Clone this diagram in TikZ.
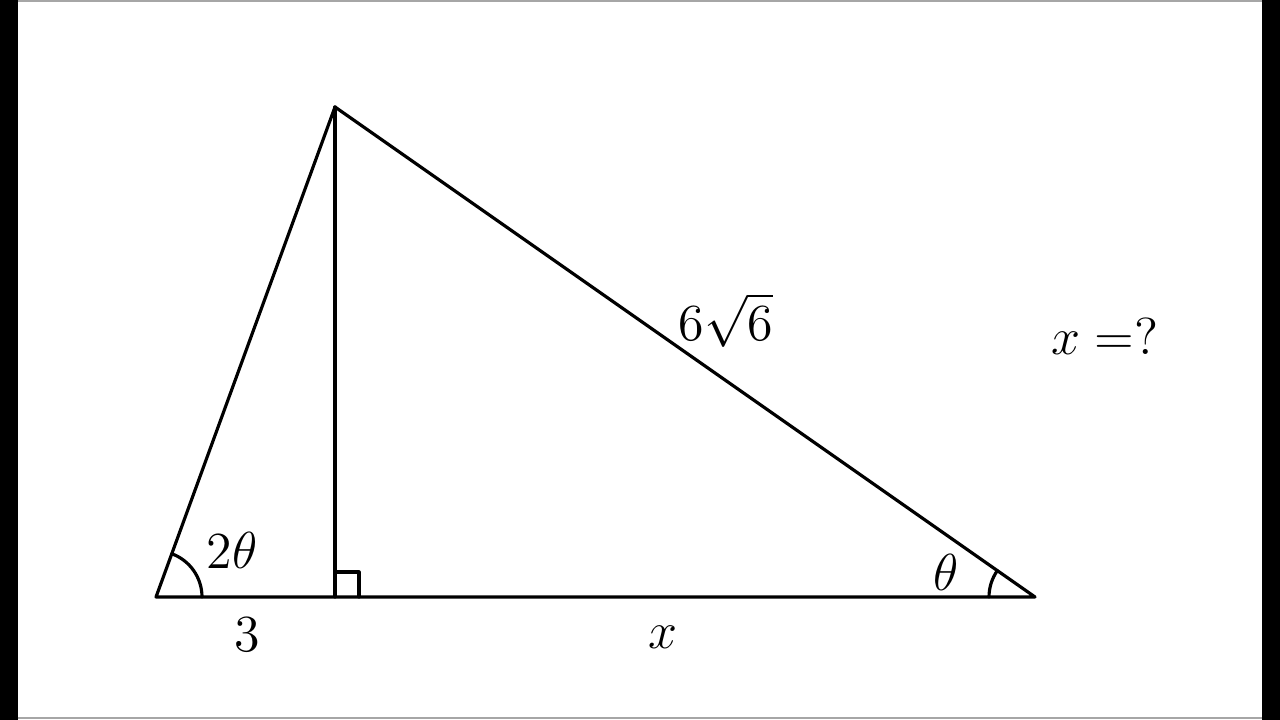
\RequirePackage{fix-cm}
\documentclass[tikz,border=0pt]{standalone}
\usepackage{amsmath}
\usetikzlibrary{calc}
\tikzset{
  edge/.style={line width=0.9pt, line join=round, line cap=round},
  lbl/.style={font=\fontsize{14.8}{18}\selectfont, inner sep=0pt}
}
\begin{document}
\begin{tikzpicture}[x=1cm,y=1cm]
\useasboundingbox (0,0) rectangle (12.8,7.2);
\fill[white] (0,0) rectangle (12.8,7.2);
\fill[black] (0,0) rectangle (0.18,7.2);
\fill[black] (12.62,0) rectangle (12.8,7.2);
\draw[gray!70, line width=0.5pt] (0.18,7.19) -- (12.62,7.19);
\draw[gray!70, line width=0.5pt] (0.18,0.02) -- (12.62,0.02);
\coordinate (A) at (1.56,1.23);
\coordinate (B) at (3.35,6.13);
\coordinate (D) at (3.35,1.23);
\coordinate (C) at (10.35,1.23);
\draw[edge] (A) -- (B) -- (C) -- cycle;
\draw[edge] (B) -- (D);
\draw[edge] ($(D)+(0,0.25)$) -- ++(0.24,0) -- ++(0,-0.25);
\draw[edge] ($(A)+(0.46,0)$) arc[start angle=0, end angle=69.9, radius=0.46];
\draw[edge] ($(C)+(-0.46,0)$) arc[start angle=180, end angle=145, radius=0.46];
\node[lbl] (t2) at (2.32,1.70) {$2\theta$};
\node[lbl] (t3) at (2.47,0.85) {$3$};
\node[lbl] (tx) at (6.63,0.83) {$x$};
\node[lbl] (tth) at (9.46,1.48) {$\theta$};
\node[lbl] (thyp) at (7.26,4.00) {$6\sqrt{6}$};
\node[lbl] (tq) at (11.05,3.84) {$x\;{=}?$};
\end{tikzpicture}
\end{document}
